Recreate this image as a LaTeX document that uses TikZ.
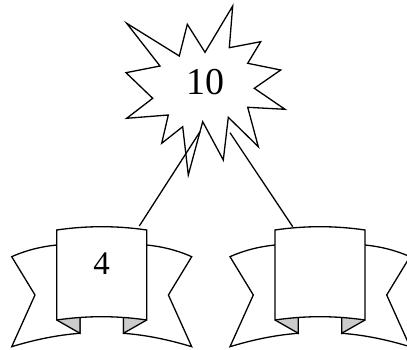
\documentclass[tikz,border=0pt]{standalone}
\usepackage{fontspec}
\setmainfont{Liberation Serif}
\begin{document}
\begin{tikzpicture}[x=1pt,y=-1pt,line width=1.3pt,line join=miter]
\useasboundingbox (0,0) rectangle (407,350);
\clip (0,0) rectangle (407,350);
\tikzset{
  fold/.style={draw,fill=black!20},
  part/.style={draw,fill=white},
  numtext/.style={inner sep=0pt},
  banner/.pic={
    % left wing
    \path[part] (-45,245) .. controls (-60,246.5) and (-75,250) .. (-90,256.7) -- (-66.7,295) -- (-90,346.7) .. controls (-68,340) and (-45,335) .. (-21.7,333.3) -- (-21.7,317.5);
    % right wing
    \path[part] (45,245) .. controls (60,246.5) and (75,250) .. (90,256.7) -- (66.7,295) -- (90,346.7) .. controls (68,340) and (45,335) .. (21.7,333.3) -- (21.7,317.5);
    % folds
    \path[fold] (-45,320) -- (-21.7,333.3) -- (-21.7,317.5);
    \path[fold] (45,320) -- (21.7,333.3) -- (21.7,317.5);
    % panel
    \path[part] (-45,230) .. controls (-15,225.6) and (15,225.6) .. (45,230) -- (45,320) .. controls (15,315.6) and (-15,315.6) .. (-45,320) -- cycle;
  }
}
% star
\path[part] (126.7,23.3) -- (179.3,56) -- (187.3,24.3) -- (205,52.3) -- (232.7,6) -- (229.3,47.7) -- (260.7,41.7) -- (247.7,63.3) -- (280.7,70) -- (254.3,88.3) -- (285,109.3) -- (247.7,107.3) -- (258.3,146.7) -- (228.3,117.3) -- (223.3,160) -- (202.7,121.7) -- (188.3,175) -- (182.7,126.7) -- (161.7,143.3) -- (168.3,115) -- (126.7,118.3) -- (152.7,98.3) -- (126,72.7) -- (160,66) -- cycle;
\node[numtext,font=\fontsize{38}{38}\selectfont] (t10) at (205,82) {10};
% banners
\pic at (101.7,0) {banner};
\pic at (320,0) {banner};
\node[numtext,font=\fontsize{33}{33}\selectfont] (t4) at (101.7,264) {4};
% connectors
\coordinate (s1) at (200,131.7);
\coordinate (b1) at (139.3,226);
\coordinate (s2) at (230,132.7);
\coordinate (b2) at (292.7,226.7);
\draw (s1) -- (b1);
\draw (s2) -- (b2);
\end{tikzpicture}
\end{document}
